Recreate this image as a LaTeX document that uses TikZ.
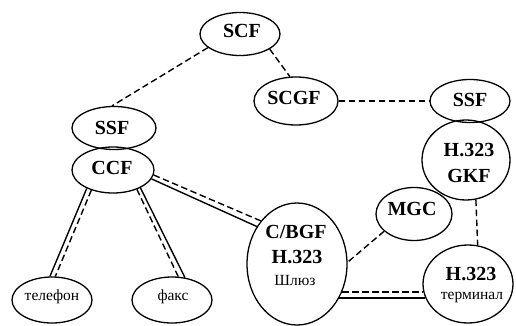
\documentclass[tikz,border=0pt]{standalone}
\usepackage{fontspec}
\setmainfont{Liberation Serif}
\usetikzlibrary{shapes.geometric}
\begin{document}
\begin{tikzpicture}[x=1pt,y=-1pt,
  el/.style={draw, ellipse, inner sep=0pt, line width=1.3pt},
  bt/.style={font=\fontsize{20}{20}\selectfont\bfseries, inner sep=0pt, text height=13pt, text depth=0pt},
  rt/.style={font=\fontsize{15.5}{15.5}\selectfont, inner sep=0pt, text height=7pt, text depth=0pt},
  dl/.style={line width=1.4pt, dash pattern=on 6.5pt off 3.5pt},
  sl/.style={line width=1.4pt}]
\useasboundingbox (0,0) rectangle (516,326);
% ellipses
\node[el, minimum width=80pt, minimum height=43pt] (scf) at (240,34) {};
\node[el, minimum width=84pt, minimum height=48pt] (scgf) at (296,101) {};
\node[el, minimum width=80pt, minimum height=43pt] (ssfR) at (470,101) {};
\node[el, minimum width=88pt, minimum height=80pt] (gkf) at (466,160) {};
\node[el, minimum width=76pt, minimum height=53pt] (mgc) at (414,214) {};
\node[el, minimum width=90pt, minimum height=78pt] (term) at (468,284) {};
\node[el, minimum width=100pt, minimum height=122pt] (cbgf) at (297,264) {};
\node[el, minimum width=84pt, minimum height=43pt] (ssfL) at (114,128) {};
\node[el, minimum width=82pt, minimum height=46pt] (ccf) at (113,170) {};
\node[el, minimum width=80pt, minimum height=46pt] (tel) at (52,300) {};
\node[el, minimum width=80pt, minimum height=46pt] (fax) at (172,300) {};
% texts
\node[bt] (tscf) at (242,31) {SCF};
\node[bt] (tscgf) at (294,98) {SCGF};
\node[bt] (tssfR) at (470,100) {SSF};
\node[bt] (tgkf1) at (469,150) {H.323};
\node[bt] (tgkf2) at (469,176) {GKF};
\node[bt] (tmgc) at (412,209) {MGC};
\node[bt] (tterm) at (471,274) {H.323};
\node[rt] (tterm2) at (472,296) {терминал};
\node[bt] (tcb1) at (296,232) {C/BGF};
\node[bt] (tcb2) at (297,257) {H.323};
\node[rt] (tcb3) at (295,282) {Шлюз};
\node[bt] (tssfL) at (112,128) {SSF};
\node[bt] (tccf) at (112,168) {CCF};
\node[rt] (ttel) at (52,297) {телефон};
\node[rt] (tfax) at (173,297) {факс};
% connectors
\draw[dl] (scf.203) -- (ssfL.95);
\draw[dl] (scf.333) -- (scgf.104);
\draw[dl] (scgf.east) -- (ssfR.west);
\draw[dl] (gkf.-76) -- (term.76);
\draw[dl] (mgc.210) -- (cbgf.2);
\draw[dl] (cbgf.-32.5) -- (cbgf.-32.5 -| term.190.5);
\draw[sl] (cbgf.-39.3) -- (cbgf.-39.3 -| term.198.9);
\draw[dl] (ccf.-7) -- (cbgf.130);
\draw[sl] (ccf.-13) -- (cbgf.137);
\draw[sl] (ccf.215.8) -- (tel.95);
\draw[dl] (ccf.223.6) -- (tel.82.6);
\draw[dl] (ccf.-39.8) -- (fax.75);
\draw[sl] (ccf.-33.7) -- (fax.60.5);
\end{tikzpicture}
\end{document}
